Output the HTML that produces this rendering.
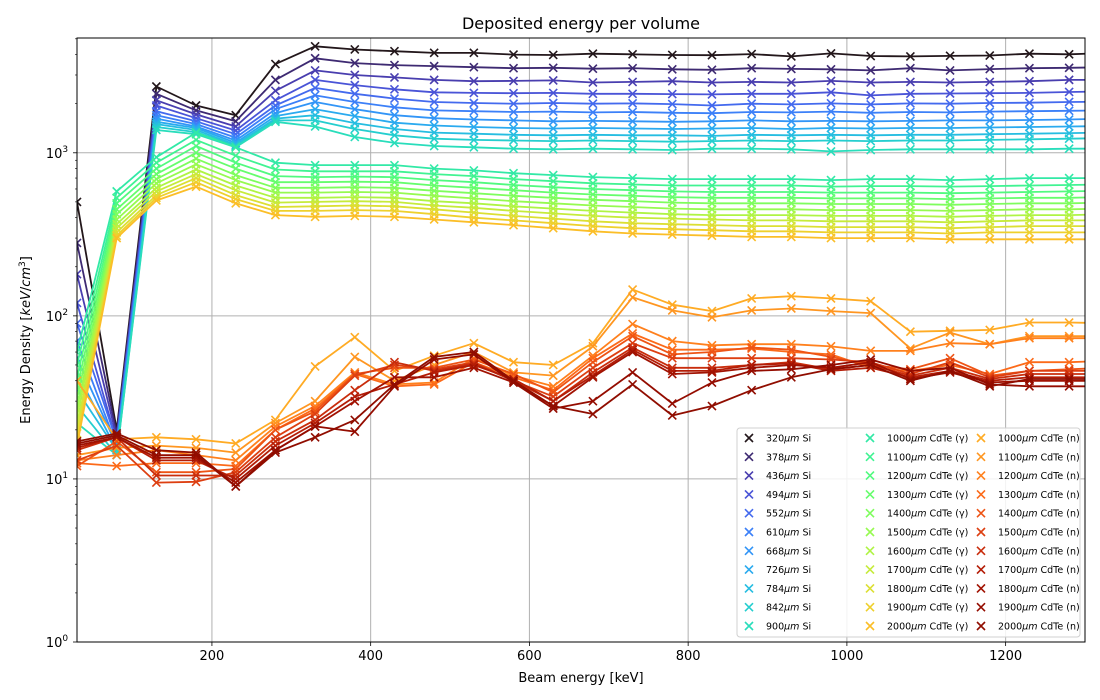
<!DOCTYPE html>
<html><head><meta charset="utf-8"><title>Deposited energy per volume</title>
<style>
html,body{margin:0;padding:0;background:#fff;}
svg{display:block;font-family:"DejaVu Sans","Liberation Sans",sans-serif;}
</style></head>
<body>
<svg id="chart" width="1100" height="700" viewBox="0 0 1100 700" xmlns="http://www.w3.org/2000/svg">
<rect x="0" y="0" width="1100" height="700" fill="#fff"/>
<text x="581" y="29" text-anchor="middle" font-size="16">Deposited energy per volume</text>
<text x="581" y="682" text-anchor="middle" font-size="13">Beam energy [keV]</text>
<text transform="translate(30,340) rotate(-90)" text-anchor="middle" font-size="13">Energy Density [<tspan font-style="italic">keV</tspan>/<tspan font-style="italic">cm</tspan><tspan font-size="9" dy="-5">3</tspan><tspan dy="5">]</tspan></text>
<defs><clipPath id="plotclip"><rect x="77" y="38" width="1008" height="604"/></clipPath></defs>
<g id="grid"></g>
<g id="series" clip-path="url(#plotclip)"></g>
<g id="axes"></g>
<g id="legend"></g>
</svg>
<script>
const energies = [30,80,130,180,230,280,330,380,430,480,530,580,630,680,730,780,830,880,930,980,1030,1080,1130,1180,1230,1280,1330];
const seriesLabels = ["320|Si","378|Si","436|Si","494|Si","552|Si","610|Si","668|Si","726|Si","784|Si","842|Si","900|Si",
"1000|CdTe (γ)","1100|CdTe (γ)","1200|CdTe (γ)","1300|CdTe (γ)","1400|CdTe (γ)","1500|CdTe (γ)","1600|CdTe (γ)","1700|CdTe (γ)","1800|CdTe (γ)","1900|CdTe (γ)","2000|CdTe (γ)",
"1000|CdTe (n)","1100|CdTe (n)","1200|CdTe (n)","1300|CdTe (n)","1400|CdTe (n)","1500|CdTe (n)","1600|CdTe (n)","1700|CdTe (n)","1800|CdTe (n)","1900|CdTe (n)","2000|CdTe (n)"];
const si320 = [500,20,2550,1950,1700,3500,4500,4300,4200,4100,4100,4000,3980,4050,4020,3980,3970,4030,3900,4070,3920,3900,3930,3950,4050,4020,4100];
const si378 = [280,19,2300,1820,1560,2800,3800,3550,3450,3400,3350,3300,3320,3280,3300,3250,3230,3300,3270,3250,3200,3300,3200,3260,3300,3320,3350];
const si436 = [180,18,2100,1720,1450,2400,3200,3000,2900,2800,2750,2760,2780,2700,2720,2750,2700,2720,2700,2760,2700,2720,2700,2720,2750,2800,2800];
const si494 = [120,17,1950,1630,1370,2100,2800,2600,2450,2350,2330,2320,2330,2300,2300,2290,2280,2300,2300,2350,2250,2300,2310,2320,2330,2360,2380];
const si552 = [90,17,1800,1560,1300,1950,2500,2300,2150,2050,2020,2000,2020,2000,2010,1990,1950,2000,1980,2010,1980,2010,2000,2020,2030,2050,2060];
const si610 = [70,16,1700,1500,1240,1850,2250,2050,1900,1820,1800,1780,1790,1770,1780,1760,1750,1780,1770,1790,1760,1780,1770,1790,1800,1810,1820];
const si668 = [55,16,1620,1450,1190,1750,2050,1850,1700,1630,1600,1580,1560,1570,1560,1550,1560,1580,1560,1570,1560,1570,1580,1580,1590,1600,1620];
const si726 = [45,15,1550,1420,1150,1680,1850,1680,1530,1470,1440,1420,1410,1420,1410,1400,1410,1420,1400,1420,1410,1420,1420,1430,1440,1450,1460];
const si784 = [35,15,1500,1380,1120,1620,1700,1520,1400,1330,1310,1290,1280,1290,1280,1280,1270,1290,1280,1290,1280,1290,1290,1300,1310,1320,1330];
const si842 = [28,14,1440,1340,1100,1580,1580,1400,1280,1220,1200,1190,1180,1190,1180,1170,1180,1190,1180,1190,1180,1190,1190,1200,1210,1220,1230];
const si900 = [22,14,1380,1300,1080,1550,1450,1250,1150,1100,1080,1060,1050,1060,1050,1040,1060,1060,1050,1020,1040,1050,1050,1050,1050,1060,1060];
const g1000 = [60,580,940,1330,1080,870,840,840,840,800,780,750,730,710,700,690,690,690,690,680,690,690,680,690,700,700,700];
const g1100 = [50,530,870,1200,960,790,770,770,770,740,720,690,670,650,640,630,630,630,630,620,625,625,620,625,630,635,640];
const g1200 = [42,490,800,1100,870,720,710,715,710,680,660,635,615,600,590,580,575,575,575,570,570,570,565,570,575,580,585];
const g1300 = [36,450,740,1000,800,660,660,665,660,630,610,590,570,555,545,535,530,530,530,525,525,525,520,525,530,530,535];
const g1400 = [31,420,690,920,730,610,610,615,610,585,565,545,530,515,505,495,490,490,490,485,485,485,480,485,490,490,495];
const g1500 = [27,390,650,850,680,570,570,575,570,545,525,505,490,475,465,455,450,450,450,445,445,445,440,445,450,450,455];
const g1600 = [24,365,610,790,630,530,530,535,530,505,490,470,455,440,430,420,415,415,415,410,410,410,405,410,415,415,420];
const g1700 = [21,345,580,740,590,495,500,505,500,475,460,440,425,410,400,395,390,385,385,380,380,380,375,380,385,385,385];
const g1800 = [19,325,550,700,550,465,470,475,470,450,430,410,395,380,370,365,360,355,355,350,350,350,345,350,355,355,355];
const g1900 = [17,310,530,660,520,440,440,445,440,420,400,385,370,355,345,340,335,330,330,325,325,325,320,325,325,325,325];
const g2000 = [16,300,510,620,490,415,405,410,405,390,375,360,345,330,320,315,310,305,305,300,300,300,295,295,295,295,295];
const n1000 = [40,17.5,18,17.5,16.5,23,49,74,46,57,68,52,50,68,145,117,107,128,132,128,123,80,81,82,91,91,90];
const n1100 = [14,15.5,16,15.5,14.5,22,30,56,40,50,60,45,43,65,130,108,98,108,111,107,104,63,79,67,75,75,75];
const n1200 = [13,14,15,14,13,21,28,45,38,39,55,43,37,57,89,70,66,67,67,65,61,61,68,67,73,73,73];
const n1300 = [12.5,12,12.5,12.5,12,20,27,44,37,38,52,42,35,55,78,62,62,63,60,58,48,46,50,44,52,52,53];
const n1400 = [12,17,11,11,11.5,20,26,44,48,48,54,44,34,52,75,58,60,64,62,56,50,47,55,43,46,47,48];
const n1500 = [13,16,9.5,9.6,11,18,25,43,50,47,52,40,32,48,68,55,55,55,55,54,52,44,52,42,46,46,46];
const n1600 = [15,18,10.5,10.5,10.5,17,23,35,52,46,51,40,30,45,64,48,48,50,52,47,50,43,48,41,44,44,44];
const n1700 = [15.5,18,13,13,10,16,22,32,38,45,50,41,30,43,62,46,46,50,51,46,48,42,46,40,42,42,42];
const n1800 = [16,18,13.5,13.5,9.5,15,21,30,42,42,48,39,28,42,60,44,45,48,50,48,52,41,45,39,40,40,40];
const n1900 = [16.5,18.5,14,14,9,15,21,19.5,37,54,58,39,27,30,45,29,39,46,47,50,54,46,48,38,37,37,37];
const n2000 = [17,19,15,14.5,9,14.5,18,23,38,56,60,40,28,25,38,24.5,28,35,42,47,50,40,46,37,41,41,41];
const seriesValues = [si320,si378,si436,si494,si552,si610,si668,si726,si784,si842,si900,
g1000,g1100,g1200,g1300,g1400,g1500,g1600,g1700,g1800,g1900,g2000,
n1000,n1100,n1200,n1300,n1400,n1500,n1600,n1700,n1800,n1900,n2000];
const xTicks = [200,400,600,800,1000,1200];
const yTickExps = [0,1,2,3];

const NS = "http://www.w3.org/2000/svg";
const PL=77, PR=1085, PT=38, PB=642;
const XMIN=30, XMAX=1300, YMIN=0, YMAX=Math.log10(5000)+0.005;
function xs(v){return PL+(v-XMIN)/(XMAX-XMIN)*(PR-PL);}
function ys(v){return PB-(Math.log10(v)-YMIN)/(YMAX-YMIN)*(PB-PT);}
function mk(tag,attrs,parent){const e=document.createElementNS(NS,tag);for(const k in attrs)e.setAttribute(k,attrs[k]);parent.appendChild(e);return e;}
function turbo(t){
 const r=0.13572138+t*(4.61539260+t*(-42.66032258+t*(132.13108234+t*(-152.94239396+t*59.28637943))));
 const g=0.09140261+t*(2.19418839+t*(4.84296658+t*(-14.18503333+t*(4.27729857+t*2.82956604))));
 const b=0.10667330+t*(12.64194608+t*(-60.58204836+t*(110.36276771+t*(-89.90310912+t*27.34824973))));
 const c=v=>Math.round(Math.max(0,Math.min(1,v))*255);
 return "rgb("+c(r)+","+c(g)+","+c(b)+")";
}
const grid=document.getElementById("grid"), axes=document.getElementById("axes"), sg=document.getElementById("series"), lg=document.getElementById("legend");
// grid + ticks
xTicks.forEach(v=>{
 const x=xs(v);
 const gl=mk("line",{x1:x,x2:x,y1:PT,y2:PB,stroke:"#b0b0b0","stroke-width":1},grid);
 
 
 const tk=mk("line",{x1:x,x2:x,y1:PB,y2:PB+4,stroke:"#000","stroke-width":0.8},axes);
 
 
 const tl=mk("text",{x:x,y:PB+18,"text-anchor":"middle","font-size":13},axes);
 tl.textContent=v;
 
 
});
yTickExps.forEach(e=>{
 const y=ys(Math.pow(10,e));
 const gl=mk("line",{x1:PL,x2:PR,y1:y,y2:y,stroke:"#b0b0b0","stroke-width":1},grid);
 
 
 const tk=mk("line",{x1:PL-4,x2:PL,y1:y,y2:y,stroke:"#000","stroke-width":0.8},axes);
 
 
 const tl=mk("text",{x:PL-20,y:y+5,"text-anchor":"middle","font-size":13},axes);
 tl.innerHTML='10<tspan font-size="9" dy="-6">'+e+'</tspan>';
 
 
 for(let m=2;m<10;m++){
  const v=m*Math.pow(10,e); if(Math.log10(v)>YMAX)break;
  const my=ys(v);
  const mt=mk("line",{x1:PL-2,x2:PL,y1:my,y2:my,stroke:"#000","stroke-width":0.6},axes);
  
  
 }
});
const frame=mk("rect",{x:PL,y:PT,width:PR-PL,height:PB-PT,fill:"none",stroke:"#000","stroke-width":1},axes);


// series
function xMarker(parent,x,y,s,col,w){
 const p=mk("path",{d:`M${x-s},${y-s}L${x+s},${y+s}M${x-s},${y+s}L${x+s},${y-s}`,stroke:col,"stroke-width":w,fill:"none"},parent);
 return p;
}
seriesValues.forEach((vals,i)=>{
 const col=turbo(i/32);
 const g=mk("g",{},sg);
 
 
 const pts=vals.map((v,j)=>xs(energies[j]).toFixed(1)+","+ys(v).toFixed(1)).join(" ");
 const ln=mk("polyline",{points:pts,fill:"none",stroke:col,"stroke-width":1.8,"stroke-linejoin":"round"},g);
 
 
 vals.forEach((v,j)=>{
  const m=xMarker(g,xs(energies[j]),ys(v),4,col,1.6);
  
  
 });
});
// legend
const lb=mk("rect",{x:737,y:428,width:343,height:209,rx:3,fill:"#fff","fill-opacity":0.85,stroke:"#d0d0d0","stroke-width":1},lg);


const colX=[749,870,981];
seriesLabels.forEach((lab,i)=>{
 const c=Math.floor(i/11), r=i%11;
 const x=colX[c], y=438+r*18.8;
 const g=mk("g",{},lg);
 
 
 xMarker(g,x,y,4,turbo(i/32),1.6);
 const parts=lab.split("|");
 const t=mk("text",{x:x+17,y:y+3.5,"font-size":9.5},g);
 t.innerHTML=parts[0]+'<tspan font-style="italic">μm</tspan> '+parts[1];
});
</script>
</body></html>
